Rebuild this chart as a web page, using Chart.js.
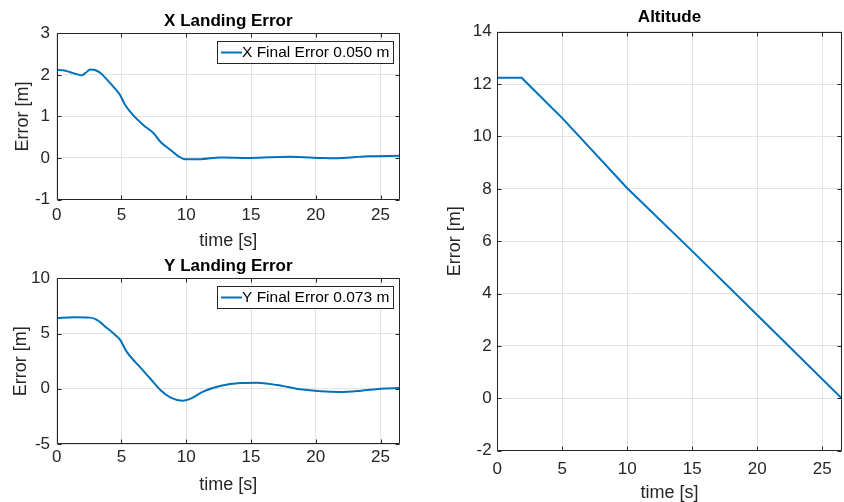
<!DOCTYPE html>
<html>
<head>
<meta charset="utf-8">
<script src="https://cdn.jsdelivr.net/npm/chart.js@4.4.1/dist/chart.umd.min.js"></script>
<style>
  html, body { margin: 0; padding: 0; background: #fff; }
  #wrap { position: relative; width: 844px; height: 502px; overflow: hidden; }
  canvas { position: absolute; }
</style>
</head>
<body>
<div id="wrap">
  <canvas id="cx" width="420" height="250" style="left:0;top:0;width:420px;height:250px"></canvas>
  <canvas id="cy" width="420" height="252" style="left:0;top:250px;width:420px;height:252px"></canvas>
  <canvas id="ca" width="424" height="502" style="left:420px;top:0;width:424px;height:502px"></canvas>
</div>
<script>
// ---- data ----
const xTime = [0, 0.5, 1.0, 1.5, 1.95, 2.2, 2.6, 3.0, 3.4, 3.9, 4.5, 4.9, 5.3, 5.9, 6.7, 7.5, 8.0, 8.8, 9.4, 9.9, 11.1, 12.6, 14.9, 18.0, 20.4, 21.4, 24.0, 26.5];
const xErr  = [2.12, 2.11, 2.07, 2.02, 1.99, 2.04, 2.13, 2.11, 2.04, 1.88, 1.67, 1.51, 1.27, 1.03, 0.79, 0.59, 0.39, 0.19, 0.04, -0.03, -0.03, 0.01, 0.0, 0.03, 0.0, -0.01, 0.04, 0.05];

const yTime = [0, 1.3, 2.6, 3.1, 3.9, 4.6, 4.9, 5.4, 6.4, 7.2, 8.0, 8.8, 9.7, 10.3, 11.3, 12.6, 14.2, 15.5, 17.0, 18.8, 20.4, 21.9, 23.5, 25.0, 26.5];
const yErr  = [6.39, 6.47, 6.44, 6.23, 5.48, 4.78, 4.42, 3.36, 2.0, 0.95, -0.11, -0.8, -1.08, -0.92, -0.26, 0.25, 0.52, 0.55, 0.34, -0.05, -0.23, -0.29, -0.17, 0.01, 0.07];

const altTime = [0, 1.88, 2.1, 5, 10, 15, 20, 26.5];
const altVal  = [12.24, 12.24, 12.13, 10.70, 8.02, 5.62, 3.18, 0.0];

const timeTicks = [0, 5, 10, 15, 20, 25];
const xErrTicks = [-1, 0, 1, 2, 3];
const yErrTicks = [-5, 0, 5, 10];
const altTicks  = [-2, 0, 2, 4, 6, 8, 10, 12, 14];

const xLabel = 'X Final Error 0.050 m';
const yLabel = 'Y Final Error 0.073 m';

// ---- styling ----
const FONT = "'Liberation Sans', Arial, Helvetica, sans-serif";
const LINE = '#0072BD';
const AXC = '#262626';
const GRID = '#e3e3e3';

const matlabBox = {
  id: 'matlabBox',
  afterDatasetsDraw(chart, args, opts) {
    const { ctx, chartArea: a, scales } = chart;
    ctx.save();
    ctx.strokeStyle = AXC;
    ctx.lineWidth = 1;
    const L = Math.round(a.left) + 0.5, R = Math.round(a.right) - 0.5;
    const T = Math.round(a.top) + 0.5, B = Math.round(a.bottom) - 0.5;
    ctx.beginPath();
    ctx.rect(L, T, R - L, B - T);
    const tl = 4;
    scales.x.ticks.forEach(t => {
      const px = Math.round(scales.x.getPixelForValue(t.value)) + 0.5;
      ctx.moveTo(px, B); ctx.lineTo(px, B - tl);
      ctx.moveTo(px, T); ctx.lineTo(px, T + tl);
    });
    scales.y.ticks.forEach(t => {
      const py = Math.round(scales.y.getPixelForValue(t.value)) + 0.5;
      ctx.moveTo(L, py); ctx.lineTo(L + tl, py);
      ctx.moveTo(R, py); ctx.lineTo(R - tl, py);
    });
    ctx.stroke();

    if (opts && opts.legend) {
      const label = chart.data.datasets[0].label;
      const w = 176, h = 22;
      const x0 = Math.round(a.right - 6.7 - w) + 0.5;
      const y0 = Math.round(a.top + 8) + 0.5;
      ctx.fillStyle = '#fff';
      ctx.fillRect(x0, y0, w, h);
      ctx.strokeStyle = AXC;
      ctx.strokeRect(x0, y0, w, h);
      const cy = y0 + h / 2;
      ctx.strokeStyle = LINE;
      ctx.lineWidth = 2;
      ctx.beginPath();
      ctx.moveTo(x0 + 3.5, cy); ctx.lineTo(x0 + 24.5, cy);
      ctx.stroke();
      ctx.fillStyle = '#000';
      ctx.font = '15.5px ' + FONT;
      ctx.textBaseline = 'middle';
      ctx.textAlign = 'left';
      ctx.fillText(label, x0 + 24.5, cy + 0.5);
    }
    ctx.restore();
  }
};

function pts(ts, vs) { return ts.map((t, i) => ({ x: t, y: vs[i] })); }

function makeChart(id, cfg) {
  const ctx = document.getElementById(id);
  return new Chart(ctx, {
    type: 'line',
    data: {
      datasets: [{
        label: cfg.label || '',
        data: pts(cfg.t, cfg.v),
        borderColor: LINE,
        borderWidth: 2,
        pointRadius: 0,
        fill: false,
        cubicInterpolationMode: cfg.smooth ? 'monotone' : 'default',
        tension: 0
      }]
    },
    options: {
      responsive: false,
      animation: false,
      events: [],
      layout: { padding: cfg.pad },
      plugins: {
        legend: { display: false },
        tooltip: { enabled: false },
        title: {
          display: true, text: cfg.title, fullSize: false,
          color: '#000',
          font: { family: FONT, size: 17, weight: 'bold', lineHeight: 1.2 },
          padding: cfg.titlePad
        },
        matlabBox: { legend: !!cfg.label }
      },
      scales: {
        x: {
          type: 'linear', min: 0, max: 26.5,
          afterBuildTicks: s => { s.ticks = timeTicks.map(v => ({ value: v })); },
          afterFit: s => { s.height = cfg.xH; },
          ticks: { color: AXC, padding: cfg.xTickPad, font: { family: FONT, size: 17, lineHeight: 1.2 }, maxRotation: 0 },
          grid: { color: GRID, drawTicks: false, lineWidth: 1 },
          border: { display: false },
          title: { display: true, text: 'time [s]', color: AXC, font: { family: FONT, size: 18, lineHeight: 1 }, padding: { top: 0, bottom: cfg.xTitlePad } }
        },
        y: {
          type: 'linear', min: cfg.yMin, max: cfg.yMax,
          afterBuildTicks: s => { s.ticks = cfg.yTicks.map(v => ({ value: v })); },
          afterFit: s => { s.width = cfg.yW; },
          ticks: { color: AXC, padding: cfg.yTickPad, font: { family: FONT, size: 17, lineHeight: 1.2 } },
          grid: { color: GRID, drawTicks: false, lineWidth: 1 },
          border: { display: false },
          title: { display: true, text: 'Error [m]', color: AXC, font: { family: FONT, size: 18, lineHeight: 1 }, padding: { top: cfg.yTitlePad, bottom: 0 } }
        }
      }
    },
    plugins: [matlabBox]
  });
}

makeChart('cx', {
  t: xTime, v: xErr, label: xLabel, smooth: true, title: 'X Landing Error',
  pad: { left: 0, right: 20, top: 0, bottom: 0 },
  titlePad: { top: 11.5, bottom: 1.4 },
  xH: 50.5, xTickPad: 5.5, xTitlePad: 0.4,
  yW: 56.7, yTickPad: 6.7, yTitlePad: 14.3,
  yMin: -1, yMax: 3, yTicks: xErrTicks
});

makeChart('cy', {
  t: yTime, v: yErr, label: yLabel, smooth: true, title: 'Y Landing Error',
  pad: { left: 0, right: 20, top: 0, bottom: 0 },
  titlePad: { top: 6.3, bottom: 1.6 },
  xH: 58, xTickPad: 3.6, xTitlePad: 8.3,
  yW: 56.7, yTickPad: 6.7, yTitlePad: 11.8,
  yMin: -5, yMax: 10, yTicks: yErrTicks
});

makeChart('ca', {
  t: altTime, v: altVal, label: '', smooth: false, title: 'Altitude',
  pad: { left: 0, right: 2.3, top: 0, bottom: 0 },
  titlePad: { top: 7.5, bottom: 3.8 },
  xH: 51.3, xTickPad: 8.9, xTitlePad: 0,
  yW: 77.3, yTickPad: 5.6, yTitlePad: 26,
  yMin: -2, yMax: 14, yTicks: altTicks
});
</script>
</body>
</html>
